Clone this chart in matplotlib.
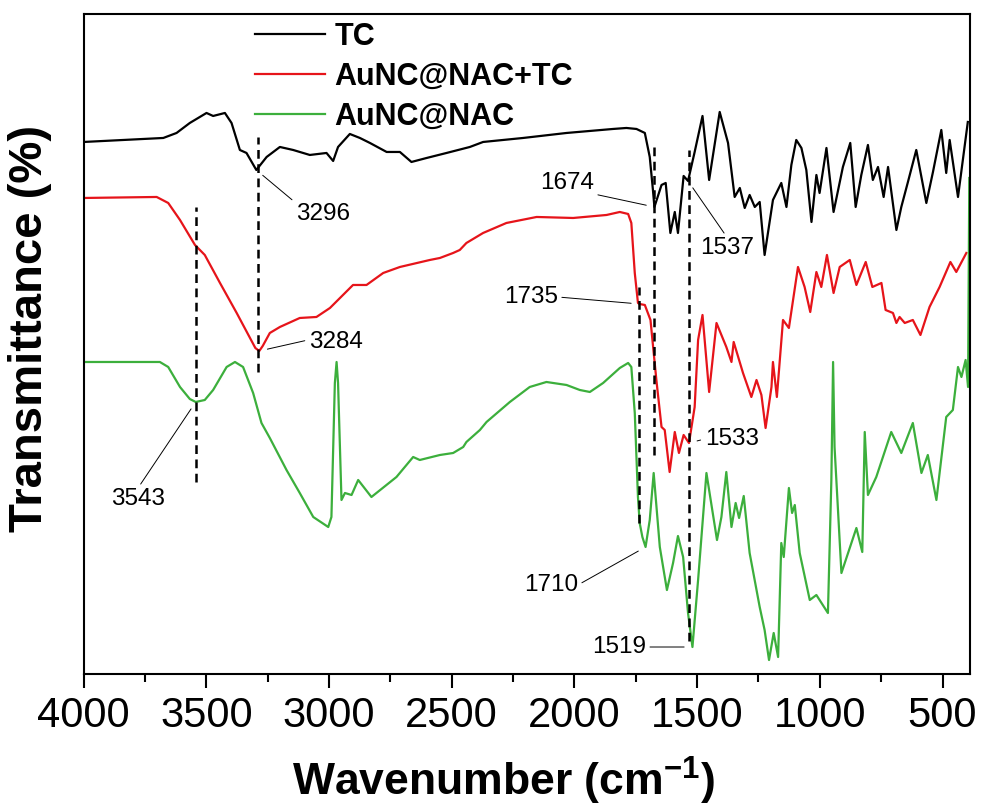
import matplotlib
matplotlib.use("Agg")
import matplotlib.pyplot as plt
from matplotlib.ticker import MultipleLocator

plt.rcParams['font.family'] = ['Liberation Sans', 'DejaVu Sans']
plt.rcParams['mathtext.fontset'] = 'custom'
plt.rcParams['mathtext.rm'] = 'Liberation Sans'
plt.rcParams['mathtext.bf'] = 'Liberation Sans:bold'

# FTIR spectra: wavenumber (cm-1) and transmittance (a.u., vertically offset)
tc_wn = [4000, 3675, 3621, 3567, 3499, 3472, 3424, 3397, 3363, 3336, 3296, 3254,
         3200, 3146, 3078, 3010, 2983, 2963, 2915, 2874, 2833, 2765, 2711, 2664,
         2602, 2521, 2426, 2372, 2209, 2032, 1843, 1788, 1747, 1713, 1693, 1680,
         1674, 1645, 1628, 1609, 1591, 1578, 1555, 1537, 1510, 1478, 1451, 1408,
         1374, 1347, 1326, 1306, 1286, 1265, 1245, 1225, 1191, 1157, 1136, 1116,
         1096, 1075, 1055, 1034, 1014, 1001, 973, 944, 906, 876, 854, 831, 804,
         784, 763, 740, 722, 688, 668, 641, 607, 566, 539, 505, 485, 471, 437, 397]
tc_t = [532, 536, 541, 551, 561, 558, 561, 551, 524, 521, 504, 517,
        527, 524, 519, 521, 513, 527, 540, 536, 531, 522, 522, 512,
        516, 521, 527, 532, 536, 541, 545, 546, 545, 541, 517, 484,
        467, 489, 491, 441, 462, 441, 498, 493, 522, 558, 494, 562,
        531, 477, 486, 466, 479, 467, 472, 419, 474, 491, 467, 509,
        534, 526, 504, 452, 499, 481, 526, 462, 507, 531, 467, 499, 529,
        494, 507, 477, 507, 444, 467, 492, 524, 471, 502, 544, 501, 534, 477, 552]

mix_wn = [4000, 3702, 3655, 3607, 3546, 3506, 3444, 3376, 3300, 3284, 3270, 3241,
          3200, 3119, 3051, 2996, 2902, 2847, 2779, 2711, 2589, 2548, 2494, 2467,
          2440, 2372, 2277, 2154, 2005, 1869, 1815, 1781, 1768, 1754, 1741, 1735,
          1713, 1690, 1666, 1645, 1632, 1612, 1591, 1574, 1555, 1533, 1510, 1496,
          1478, 1451, 1421, 1381, 1360, 1351, 1313, 1279, 1258, 1238, 1221, 1197,
          1191, 1175, 1150, 1126, 1089, 1062, 1039, 1014, 994, 971, 944, 919, 878,
          851, 813, 786, 749, 732, 702, 688, 675, 654, 621, 590, 553, 512, 468,
          444, 403]
mix_t = [476, 477, 471, 454, 429, 419, 391, 361, 326, 323, 328, 341,
         347, 356, 357, 366, 389, 389, 401, 407, 414, 416, 421, 424,
         431, 441, 451, 457, 456, 459, 462, 460, 451, 401, 371, 370,
         369, 354, 294, 247, 244, 202, 242, 221, 239, 231, 267, 334,
         359, 282, 351, 327, 312, 332, 301, 277, 294, 279, 246, 287,
         312, 277, 354, 346, 407, 387, 362, 402, 387, 419, 381, 407, 414,
         389, 412, 387, 391, 364, 361, 351, 357, 351, 354, 339, 367, 387, 412,
         402, 421]

nac_wn = [4000, 3689, 3655, 3607, 3567, 3543, 3506, 3472, 3417, 3383, 3350, 3309,
          3275, 3241, 3173, 3119, 3064, 3003, 2990, 2976, 2969, 2963, 2949, 2935,
          2908, 2881, 2827, 2725, 2657, 2630, 2548, 2494, 2453, 2440, 2385, 2358,
          2263, 2182, 2114, 2032, 1978, 1937, 1883, 1815, 1781, 1768, 1754, 1741,
          1734, 1723, 1710, 1693, 1677, 1652, 1623, 1598, 1578, 1557, 1537, 1519,
          1496, 1462, 1419, 1401, 1381, 1360, 1343, 1329, 1310, 1286, 1245, 1225,
          1207, 1188, 1170, 1157, 1147, 1126, 1113, 1102, 1082, 1041, 1014, 967,
          953, 946, 940, 912, 851, 827, 817, 804, 770, 709, 668, 621, 586, 560,
          525, 485, 458, 437, 423, 406, 396, 391]
nac_t = [312, 312, 307, 287, 275, 272, 274, 284, 307, 312, 307, 281,
         251, 236, 204, 181, 157, 147, 157, 291, 312, 291, 174, 181,
         179, 194, 177, 197, 217, 214, 219, 221, 227, 232, 244, 252,
         272, 287, 292, 289, 284, 282, 291, 306, 311, 307, 261, 177,
         151, 137, 127, 154, 201, 127, 84, 111, 138, 117, 61, 27,
         94, 201, 134, 157, 202, 147, 171, 156, 178, 121, 67, 44,
         14, 41, 17, 131, 117, 186, 161, 169, 121, 74, 79, 61,
         194, 312, 227, 101, 146, 122, 242, 179, 197, 242, 221, 251, 201, 219,
         174, 257, 264, 307, 297, 314, 287, 496]

series_names = ['TC', 'AuNC@NAC+TC', 'AuNC@NAC']
series_colors = ['#000000', '#e6141a', '#3caf3c']

# peak labels: text, peak wavenumber, peak value, label position (wn, value), leader anchor on text
peak_labels = ['3296', '3284', '3543', '1674', '1537', '1735', '1533', '1710', '1519']
peak_wn = [3296, 3284, 3543, 1674, 1537, 1735, 1533, 1710, 1519]
peak_t = [504, 323, 272, 467, 493, 370, 231, 127, 27]
label_wn = [3025, 2972, 3778, 2031, 1379, 2178, 1359, 2096, 1819]
label_t = [460, 332, 175, 491, 426, 377, 235, 89, 27]
label_anchor = [(0, 1), (0, 0.6), (0.5, 1), (1, 0), (0.5, 1), (1, 0.5), (0, 0.5), (1, 0.5), (1, 0.5)]

# dashed guide lines: wavenumber, top, bottom
guide_wn = [3290, 3543, 1674, 1735, 1533]
guide_top = [537, 467, 529, 387, 524]
guide_bottom = [302, 192, 219, 151, 33]

fig = plt.figure(figsize=(9.84, 8.07), dpi=100)
ax = fig.add_axes([0.0849, 0.1648, 0.9009, 0.8179])

for wn, t, name, color in zip([tc_wn, mix_wn, nac_wn], [tc_t, mix_t, nac_t],
                              series_names, series_colors):
    ax.plot(wn, t, color=color, lw=1.6, label=name)

ax.vlines(guide_wn, guide_bottom, guide_top, colors='black', lw=1.8,
          linestyles=(0, (3.5, 2.2)))

for txt, pw, pt, lw_, lt, anc in zip(peak_labels, peak_wn, peak_t, label_wn, label_t, label_anchor):
    ax.annotate(txt, xy=(pw, pt), xytext=(lw_, lt), ha='center', va='center',
                fontsize=17.5,
                arrowprops=dict(arrowstyle='-', lw=0.7, color='black', relpos=anc,
                                shrinkA=1, shrinkB=6))

ax.set_xlim(4000, 388)
ax.set_ylim(0, 660)
ax.xaxis.set_major_locator(MultipleLocator(500))
ax.xaxis.set_minor_locator(MultipleLocator(250))
ax.set_yticks([])
ax.tick_params(axis='x', which='major', direction='out', length=10, width=1.5,
               labelsize=30, pad=6)
ax.tick_params(axis='x', which='minor', direction='out', length=5.5, width=1.5)
for sp in ax.spines.values():
    sp.set_linewidth(1.5)

ax.set_xlabel('Wavenumber (cm$^{\\mathbf{-1}}$)', fontsize=32, fontweight='bold')
ax.xaxis.set_label_coords(0.474, -0.122)
ax.set_ylabel('Transmittance (%)', fontsize=34, fontweight='bold')
ax.yaxis.set_label_coords(-0.036, 0.524)

leg = ax.legend(loc='upper left', bbox_to_anchor=(0.1935, 0.988), frameon=False,
                prop={'weight': 'bold', 'size': 22}, handlelength=2.3,
                handletextpad=0.3, labelspacing=0.32, borderaxespad=0, borderpad=0)
for h in leg.get_lines():
    h.set_linewidth(1.6)

fig.savefig('out.png', dpi=100)
